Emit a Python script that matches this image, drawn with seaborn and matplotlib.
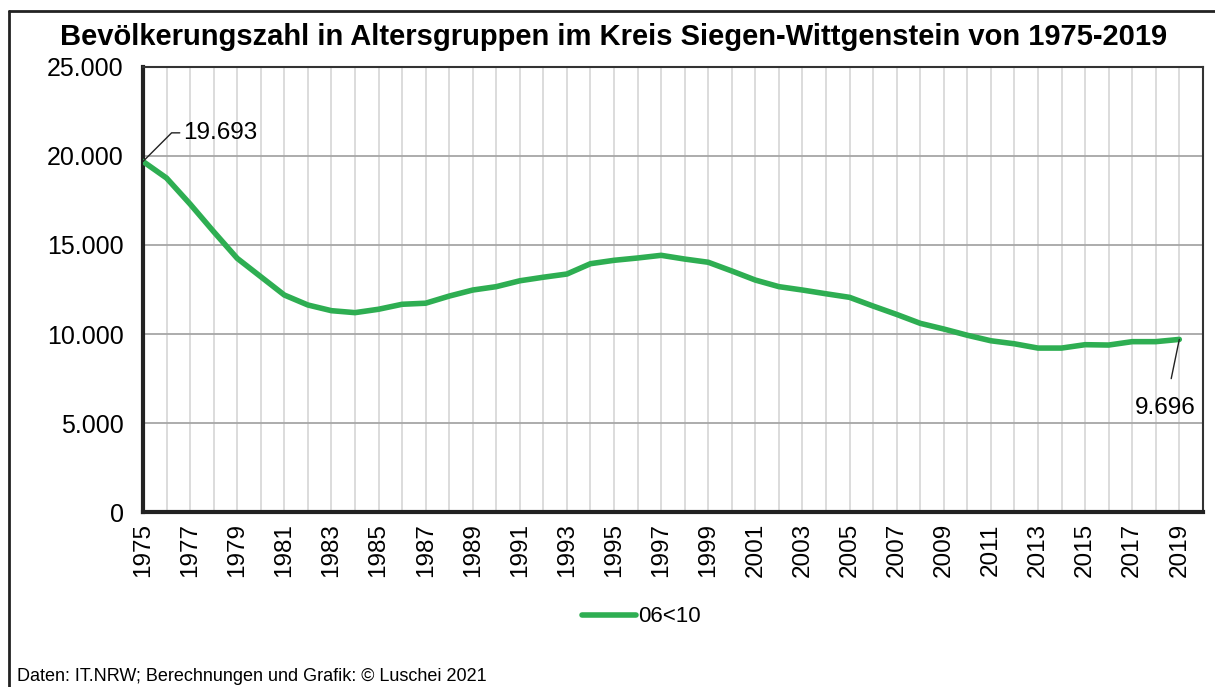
import matplotlib
matplotlib.use('Agg')
import matplotlib.pyplot as plt
import matplotlib.ticker as mticker
from matplotlib.lines import Line2D
import seaborn as sns
import pandas as pd

# Data: Kinder 6 bis unter 10 Jahre, Kreis Siegen-Wittgenstein
years = list(range(1975, 2020))
values = [19693, 18760, 17300, 15750, 14250, 13220, 12190, 11630, 11310, 11200,
          11390, 11670, 11730, 12130, 12470, 12660, 12990, 13190, 13370, 13950,
          14140, 14270, 14420, 14210, 14030, 13540, 13030, 12660, 12470, 12260,
          12060, 11570, 11100, 10600, 10280, 9930, 9620, 9450, 9210, 9210,
          9400, 9380, 9570, 9570, 9696]
series_name = '06<10'
title = 'Bevölkerungszahl in Altersgruppen im Kreis Siegen-Wittgenstein von 1975-2019'
footer = 'Daten: IT.NRW; Berechnungen und Grafik: © Luschei 2021'

df = pd.DataFrame({'Jahr': years, 'Anzahl': values, 'Gruppe': series_name})

sns.set_style('white')
plt.rcParams['font.family'] = ['Liberation Sans', 'DejaVu Sans']
plt.rcParams['text.color'] = 'black'
plt.rcParams['xtick.labelcolor'] = 'black'
plt.rcParams['ytick.labelcolor'] = 'black'

fig = plt.figure(figsize=(12.15, 6.87), dpi=100)
ax = fig.add_axes([0.1177, 0.2547, 0.8723, 0.6478])

sns.lineplot(data=df, x='Jahr', y='Anzahl', hue='Gruppe', palette=['#2EAE52'],
             linewidth=4, ax=ax, legend=False, zorder=3)

ax.set_xlim(1975, 2020)
ax.set_ylim(0, 25000)
ax.set_xlabel('')
ax.set_ylabel('')

# gridlines
ax.xaxis.set_minor_locator(mticker.MultipleLocator(1))
ax.xaxis.set_major_locator(mticker.FixedLocator(years[::2]))
ax.yaxis.set_major_locator(mticker.MultipleLocator(5000))
ax.grid(which='minor', axis='x', color='#d9d9d9', linewidth=1.3)
ax.grid(which='major', axis='x', color='#d9d9d9', linewidth=1.3)
ax.grid(which='major', axis='y', color='#a6a6a6', linewidth=1.3)
ax.set_axisbelow(True)

ax.yaxis.set_major_formatter(mticker.FuncFormatter(lambda v, p: f'{int(v):,}'.replace(',', '.')))
ax.tick_params(axis='x', which='major', direction='inout', length=12, width=3,
               color='#222222', labelsize=17.5, labelrotation=90, pad=2,
               labelcolor='black')
ax.tick_params(axis='x', which='minor', length=0)
ax.tick_params(axis='y', length=0, labelsize=18, pad=14, labelcolor='black')

for side in ['left', 'bottom']:
    ax.spines[side].set_linewidth(3)
    ax.spines[side].set_color('#222222')
for side in ['top', 'right']:
    ax.spines[side].set_linewidth(1.5)
    ax.spines[side].set_color('#333333')

# annotations at first and last point
ax.annotate(f'{values[0]:,}'.replace(',', '.'), xy=(years[0], values[0]),
            xytext=(1976.7, 21300), fontsize=17.5, va='center', ha='left',
            color='black',
            arrowprops=dict(arrowstyle='-', color='#222222', lw=1,
                            connectionstyle='angle,angleA=0,angleB=45,rad=0',
                            shrinkA=0, shrinkB=0))
ax.annotate(f'{values[-1]:,}'.replace(',', '.'), xy=(years[-1], values[-1]),
            xytext=(2018.4, 5850), fontsize=17.5, va='center', ha='center',
            color='black',
            arrowprops=dict(arrowstyle='-', color='#222222', lw=1,
                            shrinkA=11, shrinkB=0))

fig.text(0.505, 0.946, title, fontsize=21, fontweight='bold', ha='center', va='center',
         color='black')
fig.text(0.014, 0.015, footer, fontsize=13, ha='left', va='center', color='black')

handle = Line2D([0], [0], color='#2EAE52', linewidth=4)
fig.legend([handle], [series_name], loc='center', bbox_to_anchor=(0.528, 0.102),
           frameon=False, fontsize=16, handlelength=2.45, handletextpad=0.1,
           labelcolor='black')

# outer frame (top and left only)
fig.add_artist(Line2D([0.0075, 1.0], [0.984, 0.984], color='#222222', linewidth=2,
                      transform=fig.transFigure))
fig.add_artist(Line2D([0.0075, 0.0075], [0.0, 0.984], color='#222222', linewidth=2,
                      transform=fig.transFigure))

fig.savefig('out.png', dpi=100)
